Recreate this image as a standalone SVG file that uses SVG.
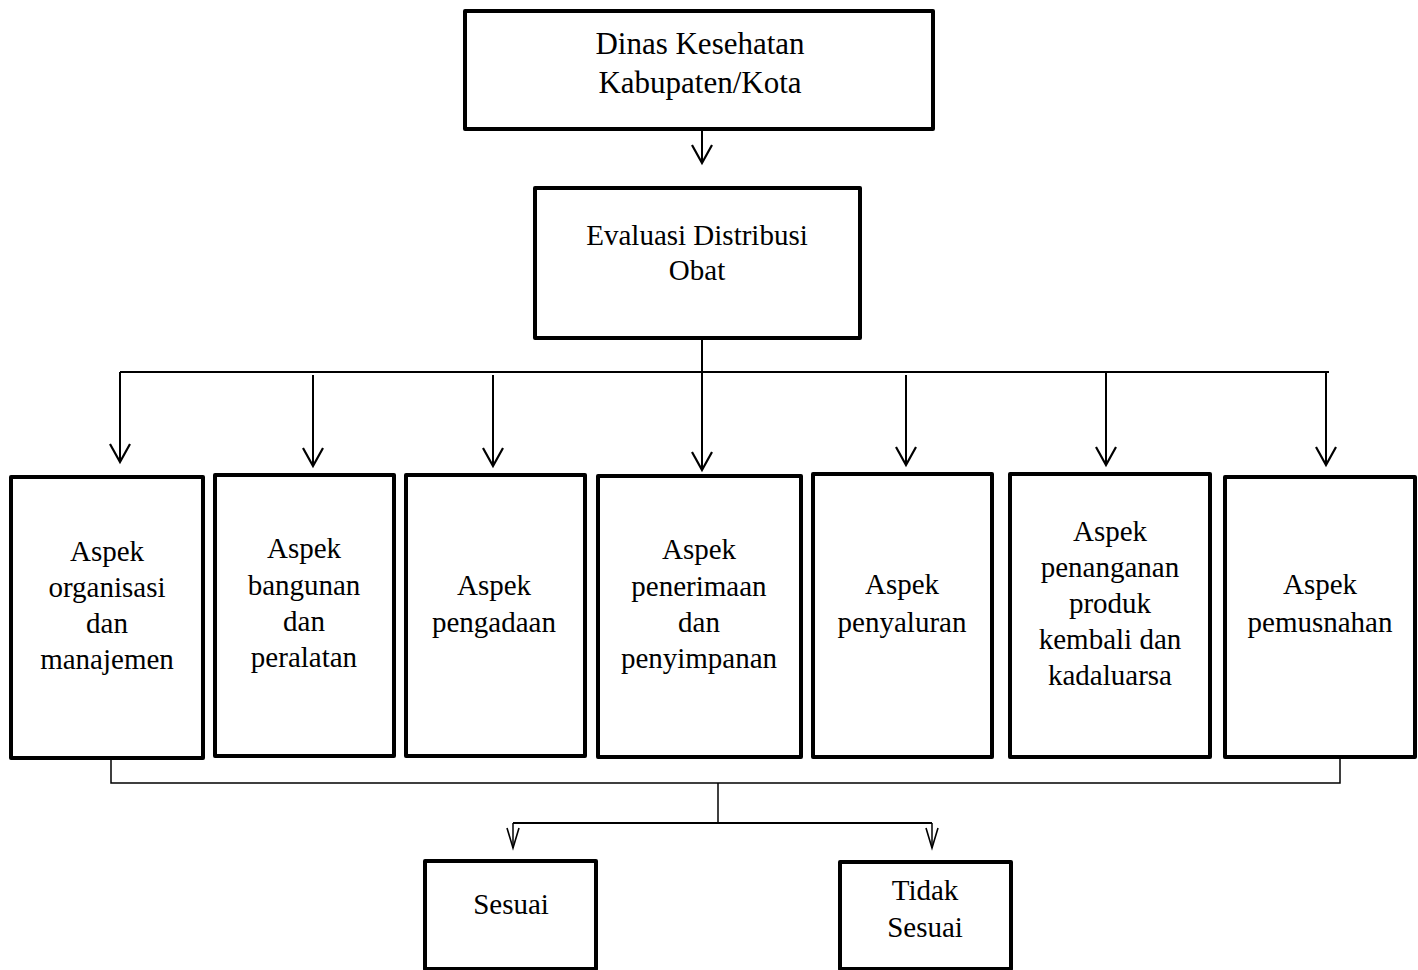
<svg xmlns="http://www.w3.org/2000/svg" width="1418" height="970" viewBox="0 0 1418 970">
<style>
.box{fill:#fff;stroke:#000;stroke-width:4;stroke-linejoin:round}
.t{font-family:"Liberation Serif","Times New Roman",serif;font-size:29px;fill:#000;text-anchor:middle}
.big{font-size:31px}
.ln{fill:none;stroke:#000;stroke-width:2}
.ln2{fill:none;stroke:#000;stroke-width:1.5}
</style>
<defs>
<marker id="ah" markerUnits="userSpaceOnUse" markerWidth="26" markerHeight="26" viewBox="-22 -13 26 26" refX="0" refY="0" orient="auto" overflow="visible">
<path d="M-18,-10 L0,0 L-18,10" fill="none" stroke="#000" stroke-width="2.2"/>
</marker>
<marker id="ahs" markerUnits="userSpaceOnUse" markerWidth="26" markerHeight="26" viewBox="-24 -13 26 26" refX="0" refY="0" orient="auto" overflow="visible">
<path d="M-20,-6 L0,0 L-20,6" fill="none" stroke="#000" stroke-width="1.6"/>
</marker>
</defs>
<g id="connectors">
<line class="ln" x1="702" y1="129" x2="702" y2="163" marker-end="url(#ah)"/>
<line class="ln" x1="120" y1="372" x2="1329" y2="372"/>
<line class="ln" x1="702" y1="338" x2="702" y2="470" marker-end="url(#ah)"/>
<line class="ln" x1="120" y1="372" x2="120" y2="462" marker-end="url(#ah)"/>
<line class="ln" x1="313" y1="375" x2="313" y2="466" marker-end="url(#ah)"/>
<line class="ln" x1="493" y1="375" x2="493" y2="466" marker-end="url(#ah)"/>
<line class="ln" x1="906" y1="375" x2="906" y2="465" marker-end="url(#ah)"/>
<line class="ln" x1="1106" y1="372" x2="1106" y2="465" marker-end="url(#ah)"/>
<line class="ln" x1="1326" y1="372" x2="1326" y2="465" marker-end="url(#ah)"/>
<polyline class="ln2" points="111,758 111,783 1340,783 1340,757"/>
<line class="ln2" x1="718" y1="783" x2="718" y2="823"/>
<line class="ln" x1="513" y1="823" x2="932" y2="823"/>
<line class="ln2" x1="513" y1="823" x2="513" y2="848" marker-end="url(#ahs)"/>
<line class="ln2" x1="932" y1="823" x2="932" y2="848" marker-end="url(#ahs)"/>
</g>
<g id="dinas">
<rect class="box" x="465" y="11" width="468" height="118"/>
<text class="t big" x="700" y="54">Dinas Kesehatan</text>
<text class="t big" x="700" y="93">Kabupaten/Kota</text>
</g>
<g id="evaluasi">
<rect class="box" x="535" y="188" width="325" height="150"/>
<text class="t" x="697" y="245">Evaluasi Distribusi</text>
<text class="t" x="697" y="280">Obat</text>
</g>
<g id="organisasi">
<rect class="box" x="11" y="477" width="192" height="281"/>
<text class="t" x="107" y="561">Aspek</text>
<text class="t" x="107" y="597">organisasi</text>
<text class="t" x="107" y="633">dan</text>
<text class="t" x="107" y="669">manajemen</text>
</g>
<g id="bangunan">
<rect class="box" x="215" y="475" width="179" height="281"/>
<text class="t" x="304" y="558">Aspek</text>
<text class="t" x="304" y="595">bangunan</text>
<text class="t" x="304" y="631">dan</text>
<text class="t" x="304" y="667">peralatan</text>
</g>
<g id="pengadaan">
<rect class="box" x="406" y="475" width="179" height="281"/>
<text class="t" x="494" y="595">Aspek</text>
<text class="t" x="494" y="632">pengadaan</text>
</g>
<g id="penerimaan">
<rect class="box" x="598" y="476" width="203" height="281"/>
<text class="t" x="699" y="559">Aspek</text>
<text class="t" x="699" y="596">penerimaan</text>
<text class="t" x="699" y="632">dan</text>
<text class="t" x="699" y="668">penyimpanan</text>
</g>
<g id="penyaluran">
<rect class="box" x="813" y="474" width="179" height="283"/>
<text class="t" x="902" y="594">Aspek</text>
<text class="t" x="902" y="632">penyaluran</text>
</g>
<g id="penanganan">
<rect class="box" x="1010" y="474" width="200" height="283"/>
<text class="t" x="1110" y="541">Aspek</text>
<text class="t" x="1110" y="577">penanganan</text>
<text class="t" x="1110" y="613">produk</text>
<text class="t" x="1110" y="649">kembali dan</text>
<text class="t" x="1110" y="685">kadaluarsa</text>
</g>
<g id="pemusnahan">
<rect class="box" x="1225" y="477" width="190" height="280"/>
<text class="t" x="1320" y="594">Aspek</text>
<text class="t" x="1320" y="632">pemusnahan</text>
</g>
<g id="sesuai">
<rect class="box" x="425" y="861" width="171" height="108"/>
<text class="t" x="511" y="914">Sesuai</text>
</g>
<g id="tidak-sesuai">
<rect class="box" x="840" y="862" width="171" height="107"/>
<text class="t" x="925" y="900">Tidak</text>
<text class="t" x="925" y="937">Sesuai</text>
</g>
</svg>
